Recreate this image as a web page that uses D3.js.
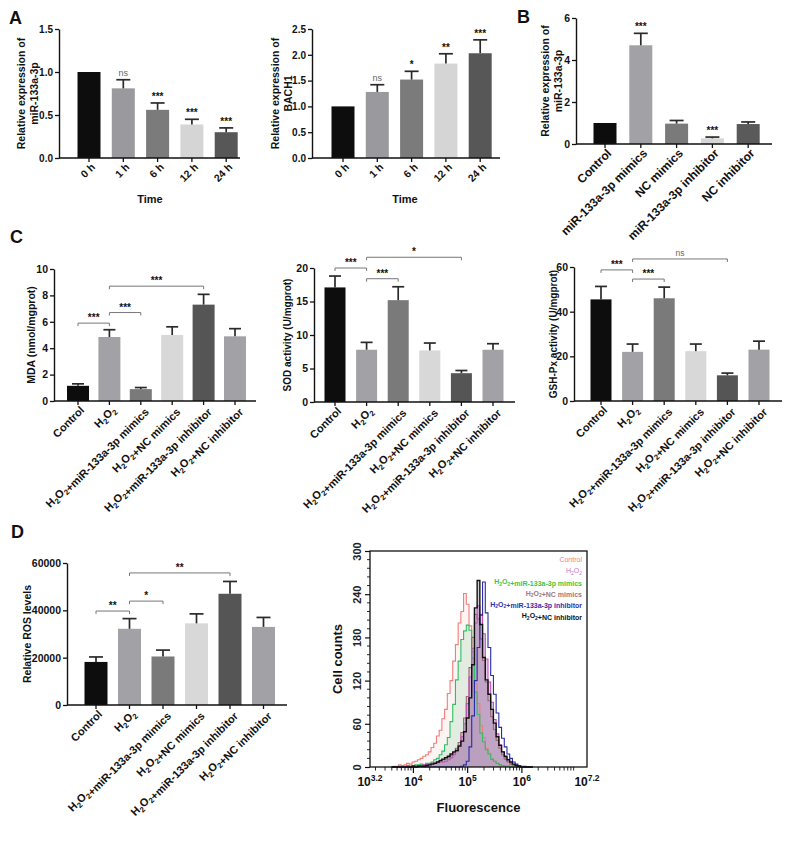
<!DOCTYPE html>
<html><head><meta charset="utf-8">
<script src="https://cdn.jsdelivr.net/npm/d3@7"></script>
<style>
body{margin:0;background:#fff}
svg{display:block}
text{font-family:"Liberation Sans",Arial,Helvetica,sans-serif}
</style>
</head><body>
<svg id="c" width="790" height="843"></svg>
<script>
// ---------------- DATA ----------------
const timeCats = ["0 h","1 h","6 h","12 h","24 h"];
const mirTimeMean = [1.0,0.81,0.56,0.39,0.30];
const mirTimeErr  = [0,0.10,0.08,0.06,0.05];
const mirTimeSig  = ["","ns","***","***","***"];
const bachMean = [1.0,1.28,1.52,1.83,2.03];
const bachErr  = [0,0.14,0.16,0.19,0.26];
const bachSig  = ["","ns","*","**","***"];
const timeColors = ["#0d0d0d","#9a9a9e","#7b7b7b","#d5d5d5","#575757"];

const bCats = ["Control","miR-133a-3p mimics","NC mimics","miR-133a-3p inhibitor","NC inhibitor"];
const bMean = [1.0,4.70,0.97,0.27,0.95];
const bErr  = [0,0.57,0.15,0.06,0.10];
const bSig  = ["","***","","***",""];
const bColors = ["#0d0d0d","#a2a2a6","#7a7a7a","#d6d6d6","#5a5a5a"];

const cCats = ["Control","H2O2","H2O2+miR-133a-3p mimics","H2O2+NC mimics","H2O2+miR-133a-3p inhibitor","H2O2+NC inhibitor"];
const cColors = ["#0d0d0d","#a2a2a6","#7a7a7a","#d8d8d8","#555555","#a2a2a6"];
const mdaMean = [1.15,4.85,0.90,5.00,7.30,4.90];
const mdaErr  = [0.15,0.55,0.12,0.62,0.78,0.58];
const mdaBrackets = [[0,1,5.9,"***"],[1,2,6.7,"***"],[1,4,8.7,"***"]];
const sodMean = [17.1,7.8,15.2,7.7,4.3,7.8];
const sodErr  = [1.7,1.1,2.0,1.1,0.4,0.9];
const sodBrackets = [[0,1,20.0,"***"],[1,2,18.4,"***"],[1,4,21.6,"*"]];
const gshMean = [45.5,22.0,46.0,22.3,11.5,23.0];
const gshErr  = [5.8,3.5,5.0,3.2,1.0,3.8];
const gshBrackets = [[0,1,58.7,"***"],[1,2,54.6,"***"],[1,4,63.6,"ns"]];
const rosMean = [18200,32200,20500,34500,47000,33000];
const rosErr  = [2100,4300,2700,4000,5200,4000];
const rosBrackets = [[0,1,39700,"**"],[1,2,43900,"*"],[1,4,55800,"**"]];

// flow histogram (log10 fluorescence bin centres, counts per series)
const logBins = [3.60,3.65,3.70,3.75,3.80,3.85,3.90,3.95,4.00,4.05,4.10,4.15,4.20,4.25,4.30,4.35,4.40,4.45,4.50,4.55,4.60,4.65,4.70,4.75,4.80,4.85,4.90,4.95,5.00,5.05,5.10,5.15,5.20,5.25,5.30,5.35,5.40,5.45,5.50,5.55,5.60,5.65,5.70,5.75,5.80,5.85,5.90,5.95,6.00,6.05,6.10,6.15,6.20];
const histNames = ["Control","H2O2","H2O2+miR-133a-3p mimics","H2O2+NC mimics","H2O2+miR-133a-3p inhibitor","H2O2+NC inhibitor"];
const histControl = [0,1,1,3,2,3,5,4,7,8,10,12,15,17,21,27,33,43,51,67,80,102,120,147,170,200,216,241,226,196,160,116,88,58,41,26,19,11,8,5,3,2,1,1,0,0,0,0,0,0,0,0,0];
const histH2O2    = [0,0,0,0,0,0,0,1,1,1,2,2,3,3,4,5,5,6,7,7,8,10,13,17,22,30,42,60,88,125,165,200,224,212,185,150,118,90,66,46,31,21,13,8,5,3,2,1,0,0,0,0,0];
const histMimics  = [0,0,0,1,0,1,2,1,2,3,3,4,3,5,5,7,10,12,17,22,31,41,63,87,121,147,177,189,197,190,151,104,73,47,35,24,18,11,8,5,3,2,1,1,0,0,0,0,0,0,0,0,0];
const histNCmim   = [0,0,0,0,0,0,1,0,1,1,2,2,3,3,4,5,6,7,8,10,11,13,16,20,26,34,48,68,98,138,180,212,206,178,148,118,92,70,52,37,26,17,11,7,4,3,2,1,0,0,0,0,0];
const histInhib   = [0,0,0,0,0,0,0,0,0,0,0,0,0,0,0,0,0,0,0,0,0,0,0,0,0,0,1,3,8,28,71,120,166,211,257,214,166,127,101,75,55,40,28,18,12,7,4,2,1,1,0,0,0];
const histNCinh   = [0,0,0,0,0,0,0,0,1,0,1,1,1,2,3,4,5,7,9,11,13,15,18,21,23,29,36,49,68,96,142,221,259,198,152,121,101,80,61,42,30,21,15,10,7,4,2,1,0,0,0,0,0];
const histYTicks = [0,60,120,180,240,300];
const histXTicks = [3.2,4,5,6,7.2];

// ---------------- HELPERS ----------------
const svg = d3.select("#c");
const FF = '"Liberation Sans",Arial,sans-serif';

function richLabel(sel, str, subSize, shift){
  sel.text(null);
  str.split(/(H2O2)/).forEach(p=>{
    if(p==="H2O2"){
      sel.append("tspan").text("H");
      sel.append("tspan").attr("font-size",subSize).attr("dy",shift).text("2");
      sel.append("tspan").attr("dy",-shift).text("O");
      sel.append("tspan").attr("font-size",subSize).attr("dy",shift).text("2");
      sel.append("tspan").attr("dy",-shift).text("");
    } else if(p){ sel.append("tspan").text(p); }
  });
}

function barPanel(p){
  const g = svg.append("g");
  const n = p.cats.length;
  const y = d3.scaleLinear().domain([0,p.yMax]).range([p.yBot,p.yTop]);
  const x = d3.scaleBand().domain(p.cats)
    .range([p.c0 - p.bw/2, p.c0 + (n-1)*p.step + p.bw/2])
    .paddingInner(1 - p.bw/p.step).paddingOuter(0);
  const cx = i => x(p.cats[i]) + x.bandwidth()/2;

  g.selectAll("rect.bar").data(p.mean).join("rect").attr("class","bar")
    .attr("x",(d,i)=>x(p.cats[i])).attr("width",x.bandwidth())
    .attr("y",d=>y(d)).attr("height",d=>p.yBot-y(d))
    .attr("fill",(d,i)=>p.colors[i]);
  p.mean.forEach((d,i)=>{
    if(!(p.err[i]>0)) return;
    const top = y(d + p.err[i]);
    g.append("line").attr("x1",cx(i)).attr("x2",cx(i)).attr("y1",y(d)).attr("y2",top)
      .attr("stroke","#2a2a2a").attr("stroke-width",1.7);
    g.append("line").attr("x1",cx(i)-p.cap).attr("x2",cx(i)+p.cap).attr("y1",top).attr("y2",top)
      .attr("stroke","#2a2a2a").attr("stroke-width",1.7);
  });
  if(p.sig){
    p.sig.forEach((s,i)=>{
      if(!s) return;
      const ns = s==="ns";
      g.append("text").attr("x",cx(i)).attr("y",y(p.mean[i]+p.err[i])-(ns?4:3))
        .attr("text-anchor","middle")
        .attr("font-size",ns?9:10).attr("font-weight",ns?"normal":"bold")
        .attr("fill",ns?"#666":"#111").text(s);
    });
  }
  if(p.brackets){
    p.brackets.forEach(([i,j,v,lab])=>{
      const yy = y(v);
      g.append("path").attr("d",`M${cx(i)},${yy+3}V${yy}H${cx(j)}V${yy+3}`)
        .attr("fill","none").attr("stroke","#777").attr("stroke-width",1);
      const ns = lab==="ns";
      g.append("text").attr("x",(cx(i)+cx(j))/2).attr("y",yy-(ns?3:2))
        .attr("text-anchor","middle").attr("font-size",ns?8.5:10)
        .attr("font-weight",ns?"normal":"bold").attr("fill",ns?"#666":"#111").text(lab);
    });
  }
  const ya = g.append("g").attr("transform",`translate(${p.x0},0)`)
    .call(d3.axisLeft(y).tickValues(p.ticks).tickFormat(p.fmt).tickSize(4).tickSizeOuter(0));
  ya.select(".domain").attr("stroke","#111").attr("stroke-width",1.4);
  ya.selectAll(".tick line").attr("stroke","#111").attr("stroke-width",1.3);
  ya.selectAll(".tick text").attr("font-size",p.tickSize).attr("font-weight","bold").attr("fill","#111")
    .attr("font-family",FF).attr("x",-6);
  const xa = g.append("g").attr("transform",`translate(0,${p.yBot})`)
    .call(d3.axisBottom(x).tickSize(4).tickSizeOuter(0));
  xa.select(".domain").remove();
  xa.append("line").attr("x1",p.x0).attr("x2",p.xEnd).attr("y1",0).attr("y2",0)
    .attr("stroke","#111").attr("stroke-width",1.4);
  xa.selectAll(".tick line").attr("stroke","#111").attr("stroke-width",1.3);
  xa.selectAll(".tick text").each(function(d){ richLabel(d3.select(this), d, p.labSize*0.7, p.labSize*0.25); })
    .attr("font-size",p.labSize).attr("font-weight","bold").attr("fill","#111")
    .attr("font-family",FF)
    .attr("text-anchor","end").attr("x",-2).attr("y",8).attr("dy","0.35em")
    .attr("transform","rotate(-45)");
  p.ylab.forEach((t,k)=>{
    g.append("text").attr("transform",`translate(${p.ylabX[k]},${(p.yTop+p.yBot)/2}) rotate(-90)`)
      .attr("text-anchor","middle").attr("dy","0.35em")
      .attr("font-size",p.ylabSize).attr("font-weight","bold").attr("fill","#111").text(t);
  });
  if(p.xlab){
    g.append("text").attr("x",p.xlabX).attr("y",p.xlabY).attr("text-anchor","middle")
      .attr("font-size",11).attr("font-weight","bold").attr("fill","#111").text(p.xlab);
  }
  return g;
}

// ---------------- PANELS ----------------
const f1 = d3.format(".1f"), f0 = d3.format("d");

barPanel({cats:timeCats,mean:mirTimeMean,err:mirTimeErr,sig:mirTimeSig,colors:timeColors,
  yMax:1.5,ticks:[0,0.5,1,1.5],fmt:f1,x0:59,xEnd:240,yTop:29,yBot:158,c0:89,step:34.3,bw:23,cap:7,
  tickSize:10,labSize:10.5,ylabSize:10.5,
  ylab:["Relative expression of","miR-133a-3p"],ylabX:[21,34],xlab:"Time",xlabX:150,xlabY:203});

barPanel({cats:timeCats,mean:bachMean,err:bachErr,sig:bachSig,colors:timeColors,
  yMax:2.5,ticks:[0,0.5,1,1.5,2,2.5],fmt:f1,x0:312,xEnd:500,yTop:29,yBot:158,c0:343,step:34.3,bw:23,cap:7,
  tickSize:10,labSize:10.5,ylabSize:10.5,
  ylab:["Relative expression of","BACH1"],ylabX:[275,288],xlab:"Time",xlabX:405,xlabY:203});

barPanel({cats:bCats,mean:bMean,err:bErr,sig:bSig,colors:bColors,
  yMax:6,ticks:[0,2,4,6],fmt:f0,x0:576,xEnd:772,yTop:18,yBot:144,c0:605,step:35.8,bw:23,cap:7,
  tickSize:10.5,labSize:12,ylabSize:10.5,
  ylab:["Relative expression of","miR-133a-3p"],ylabX:[545,558]});

barPanel({cats:cCats,mean:mdaMean,err:mdaErr,colors:cColors,brackets:mdaBrackets,
  yMax:10,ticks:[0,2,4,6,8,10],fmt:f0,x0:54,xEnd:256,yTop:269,yBot:401,c0:78,step:31.4,bw:22,cap:6,
  tickSize:10.5,labSize:11,ylabSize:10.5,
  ylab:["MDA (nmol/mgprot)"],ylabX:[31]});

barPanel({cats:cCats,mean:sodMean,err:sodErr,colors:cColors,brackets:sodBrackets,
  yMax:20,ticks:[0,5,10,15,20],fmt:f0,x0:314,xEnd:515,yTop:268,yBot:402,c0:335,step:31.6,bw:21,cap:6,
  tickSize:10.5,labSize:11,ylabSize:10,
  ylab:["SOD activity (U/mgprot)"],ylabX:[287]});

barPanel({cats:cCats,mean:gshMean,err:gshErr,colors:cColors,brackets:gshBrackets,
  yMax:60,ticks:[0,20,40,60],fmt:f0,x0:574,xEnd:782,yTop:267,yBot:401,c0:601,step:31.6,bw:21,cap:6,
  tickSize:10.5,labSize:11,ylabSize:10,
  ylab:["GSH-Px activity (U/mgprot)"],ylabX:[553]});

barPanel({cats:cCats,mean:rosMean,err:rosErr,colors:cColors,brackets:rosBrackets,
  yMax:60000,ticks:[0,20000,40000,60000],fmt:f0,x0:67,xEnd:287,yTop:563,yBot:705,c0:96,step:33.5,bw:23,cap:7,
  tickSize:10.5,labSize:11,ylabSize:10.5,
  ylab:["Relative ROS levels"],ylabX:[27]});

[["A",9,24],["B",517,23],["C",10,243],["D",11,538]].forEach(([t,x,y])=>{
  svg.append("text").attr("x",x).attr("y",y).attr("font-size",18).attr("font-weight","bold")
    .attr("fill","#111").text(t);
});

// ---------------- FLOW HISTOGRAM ----------------
(function(){
  const g = svg.append("g");
  const X0=370, X1=587, Y0=767, Y1=551;
  const hx = d3.scaleLog().domain([Math.pow(10,3.2),Math.pow(10,7.2)]).range([X0,X1]);
  const hy = d3.scaleLinear().domain([0,300]).range([Y0,Y1]);
  const series = [
    {v:histControl,stroke:"#f07c7c",fill:"rgba(245,150,150,0.10)"},
    {v:histMimics, stroke:"#2fbf62",fill:"rgba(60,190,110,0.14)"},
    {v:histNCinh,  stroke:null,     fill:"rgba(150,150,160,0.45)"},
    {v:histNCmim,  stroke:"#9a6870",fill:"rgba(170,130,140,0.25)"},
    {v:histH2O2,   stroke:"#c050c0",fill:"rgba(185,130,205,0.40)"},
    {v:histInhib,  stroke:"#2a2aa8",fill:null},
    {v:histNCinh,  stroke:"#111111",fill:null}
  ];
  const area = d3.area().curve(d3.curveStep)
    .x((d,i)=>hx(Math.pow(10,logBins[i]))).y0(Y0).y1(d=>hy(d));
  const line = d3.line().curve(d3.curveStep)
    .x((d,i)=>hx(Math.pow(10,logBins[i]))).y(d=>hy(d));
  series.forEach(s=>{ if(s.fill) g.append("path").attr("d",area(s.v)).attr("fill",s.fill); });
  series.forEach(s=>{ if(s.stroke) g.append("path").attr("d",line(s.v)).attr("fill","none")
      .attr("stroke",s.stroke).attr("stroke-width",s.stroke==="#111111"?1.4:1.1); });

  g.append("rect").attr("x",X0).attr("y",Y1).attr("width",X1-X0).attr("height",Y0-Y1)
    .attr("fill","none").attr("stroke","#111").attr("stroke-width",1.3);

  const ya = g.append("g").attr("transform",`translate(${X0},0)`)
    .call(d3.axisLeft(hy).tickValues(histYTicks).tickSize(5).tickSizeOuter(0).tickFormat(f0));
  ya.select(".domain").remove();
  ya.selectAll(".tick line").attr("stroke","#111").attr("stroke-width",1.2);
  ya.selectAll(".tick text").attr("font-size",11).attr("font-weight","bold").attr("fill","#222")
    .attr("font-family",FF)
    .attr("transform","rotate(-90)").attr("x",0).attr("y",-9).attr("dy",0).attr("text-anchor","middle");
  const minorY = d3.range(0,300,12).filter(v=>v%60!==0);
  g.selectAll("line.my").data(minorY).join("line").attr("x1",X0-3).attr("x2",X0)
    .attr("y1",d=>hy(d)).attr("y2",d=>hy(d)).attr("stroke","#111").attr("stroke-width",0.9);

  const majors = [1e4,1e5,1e6];
  g.selectAll("line.mx").data(majors).join("line").attr("x1",d=>hx(d)).attr("x2",d=>hx(d))
    .attr("y1",Y0).attr("y2",Y0+6).attr("stroke","#111").attr("stroke-width",1.2);
  const minors = [];
  [3,4,5,6,7].forEach(k=>{ for(let m=2;m<=9;m++){ const v=m*Math.pow(10,k);
    if(v>hx.domain()[0] && v<hx.domain()[1]) minors.push(v);} });
  g.selectAll("line.mnx").data(minors).join("line").attr("x1",d=>hx(d)).attr("x2",d=>hx(d))
    .attr("y1",Y0).attr("y2",Y0+3.5).attr("stroke","#111").attr("stroke-width",0.9);
  histXTicks.forEach(e=>{
    const t = g.append("text").attr("x",hx(Math.pow(10,e))).attr("y",Y0+19)
      .attr("text-anchor","middle").attr("font-size",12).attr("font-weight","bold").attr("fill","#111");
    t.append("tspan").text("10");
    t.append("tspan").attr("font-size",8.5).attr("dy",-5).text(String(e));
  });

  g.append("text").attr("transform",`translate(337,${(Y0+Y1)/2}) rotate(-90)`)
    .attr("text-anchor","middle").attr("dy","0.35em").attr("font-size",13).attr("font-weight","bold")
    .attr("fill","#111").text("Cell counts");
  g.append("text").attr("x",(X0+X1)/2).attr("y",812).attr("text-anchor","middle")
    .attr("font-size",13).attr("font-weight","bold").attr("fill","#111").text("Fluorescence");

  const legColors = ["#f08080","#d070d0","#3cc83c","#a07880","#3030b0","#111111"];
  histNames.forEach((nm,i)=>{
    const t = g.append("text").attr("x",582).attr("y",562+i*11.2).attr("text-anchor","end")
      .attr("font-size",7).attr("font-weight",i===0||i===1?"normal":"bold").attr("fill",legColors[i]);
    richLabel(t,nm,5,1.5);
  });
})();
</script>
</body></html>
